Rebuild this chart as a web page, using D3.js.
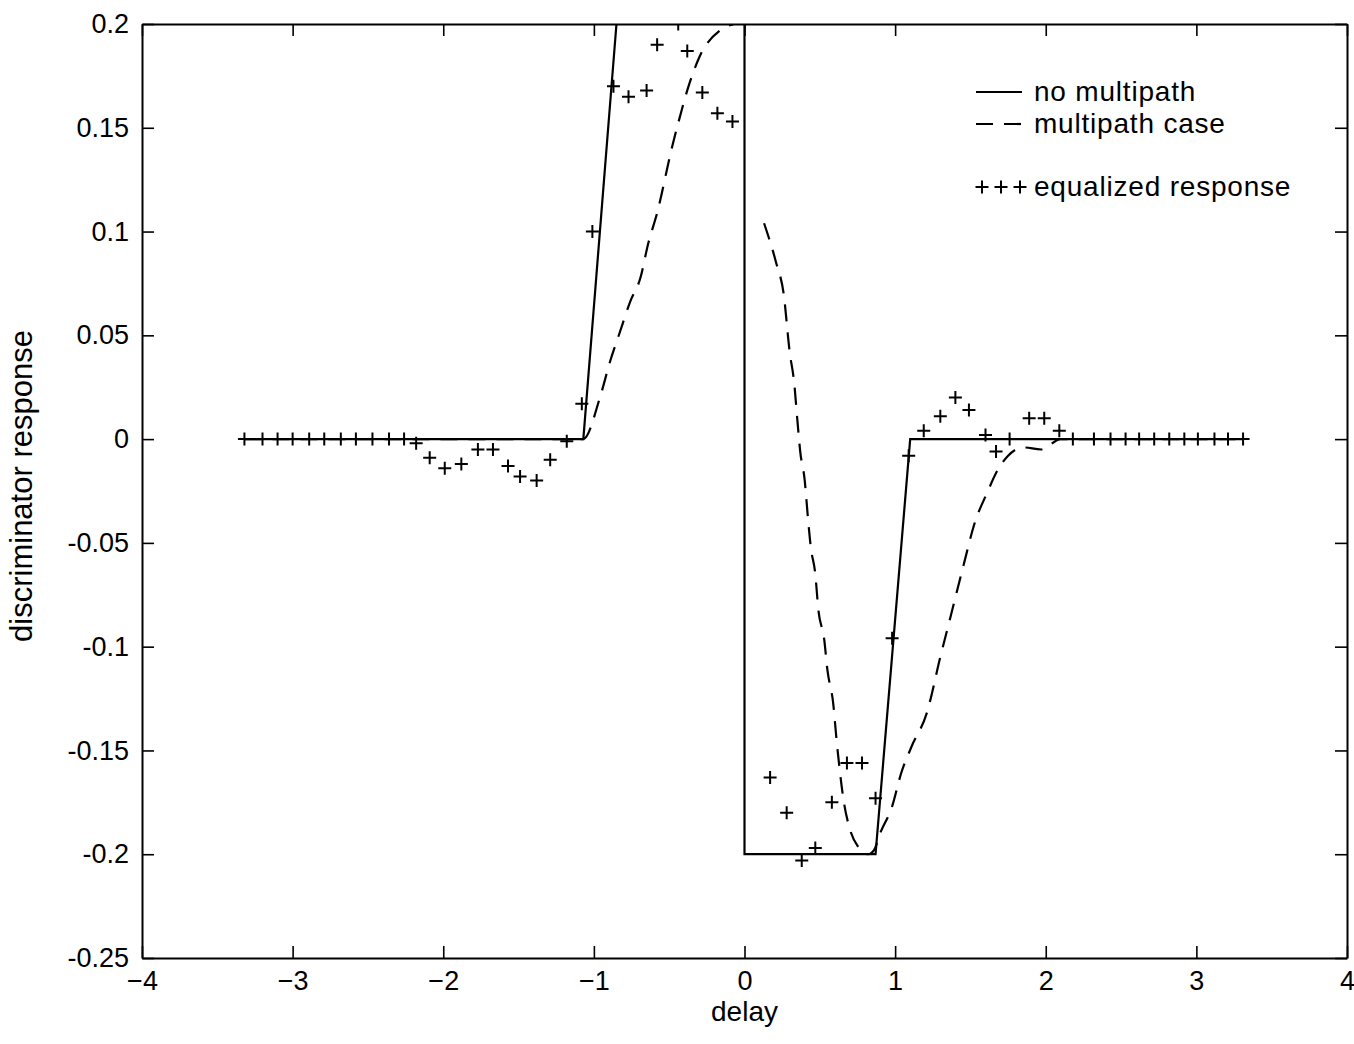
<!DOCTYPE html>
<html>
<head>
<meta charset="utf-8">
<script src="https://cdn.jsdelivr.net/npm/d3@7"></script>
<style>
  html, body { margin: 0; background: #fff; }
  svg { display: block; }
  text { font-family: "Liberation Sans", Arial, Helvetica, sans-serif; fill: #000; }
</style>
</head>
<body>
<svg id="chart" width="1354" height="1044"></svg>
<script>
// ---- axis ticks ----
const xTicks = [-4, -3, -2, -1, 0, 1, 2, 3, 4];
const xTickLabels = ["\u22124", "\u22123", "\u22122", "\u22121", "0", "1", "2", "3", "4"];
const yTicks = [-0.25, -0.2, -0.15, -0.1, -0.05, 0, 0.05, 0.1, 0.15, 0.2];
const yTickLabels = ["-0.25", "-0.2", "-0.15", "-0.1", "-0.05", "0", "0.05", "0.1", "0.15", "0.2"];

const seriesNames = ["no multipath", "multipath case", "equalized response"];

// ---- no multipath: ideal early-late discriminator ----
const idealDelay = [-3.32, -1.07, -0.85, 0, 0, 0.87, 1.1, 3.31];
const idealResp  = [0, 0, 0.2, 0.2, -0.2, -0.2, 0, 0];

// ---- multipath case (null = break at zero delay, curve leaves the axes) ----
const mpDelay = [-3.32, -1.07, -0.96, -0.89, -0.83, -0.76, -0.69, -0.64, -0.58, -0.48, -0.43, -0.38, -0.30, -0.16, -0.07,
                 0.05,
                 0.13, 0.21, 0.26, 0.30, 0.33, 0.35, 0.37, 0.40, 0.42, 0.44, 0.47, 0.49, 0.53, 0.55, 0.59, 0.61, 0.63,
                 0.66, 0.70, 0.76, 0.82, 0.86, 0.90, 0.98, 1.04, 1.11, 1.21, 1.30, 1.37, 1.45, 1.53, 1.61, 1.68, 1.75,
                 1.85, 1.97, 2.10, 3.31];
const mpResp  = [0, 0, 0.020, 0.038, 0.051, 0.066, 0.078, 0.094, 0.109, 0.141, 0.155, 0.168, 0.184, 0.197, 0.200,
                 null,
                 0.104, 0.085, 0.070, 0.042, 0.027, 0.010, -0.006, -0.020, -0.037, -0.052, -0.065, -0.082, -0.097, -0.111, -0.128, -0.144, -0.158,
                 -0.175, -0.188, -0.197, -0.200, -0.198, -0.190, -0.177, -0.161, -0.148, -0.132, -0.105, -0.085, -0.062, -0.040, -0.026, -0.015, -0.008,
                 -0.004, -0.005, 0, 0];

// ---- equalized response samples (plotted as + markers) ----
const eqDelay = [-3.32, -3.20, -3.10, -3.00, -2.89, -2.79, -2.68, -2.58, -2.47, -2.36, -2.26,
                 -2.18, -2.09, -1.99, -1.88, -1.77, -1.67, -1.57, -1.49, -1.38, -1.29, -1.18,
                 -1.08, -1.01, -0.87, -0.77, -0.65, -0.58, -0.44, -0.38, -0.28, -0.18, -0.08,
                 0.17, 0.28, 0.38, 0.47, 0.58, 0.68, 0.78, 0.87, 0.98, 1.09,
                 1.19, 1.30, 1.40, 1.49, 1.60, 1.67, 1.76, 1.89, 1.99, 2.09, 2.18, 2.32,
                 2.43, 2.53, 2.62, 2.72, 2.82, 2.92, 3.01, 3.12, 3.21, 3.31];
const eqResp  = [0, 0, 0, 0, 0, 0, 0, 0, 0, 0, 0,
                 -0.002, -0.009, -0.014, -0.012, -0.005, -0.005, -0.013, -0.018, -0.020, -0.010, -0.001,
                 0.017, 0.100, 0.170, 0.165, 0.168, 0.190, 0.200, 0.187, 0.167, 0.157, 0.153,
                 -0.163, -0.180, -0.203, -0.197, -0.175, -0.156, -0.156, -0.173, -0.096, -0.008,
                 0.004, 0.011, 0.020, 0.014, 0.002, -0.006, 0.000, 0.010, 0.010, 0.004, 0.000, 0.000,
                 0, 0, 0, 0, 0, 0, 0, 0, 0, 0];

// ---- layout ----
const svg = d3.select("#chart");
const plot = { left: 142, right: 1347, top: 24, bottom: 958 };

const x = d3.scaleLinear().domain([-4, 4]).range([plot.left, plot.right]);
const y = d3.scaleLinear().domain([-0.25, 0.2]).range([plot.bottom, plot.top]);

svg.append("defs").append("clipPath").attr("id", "plot-clip")
  .append("rect")
  .attr("x", plot.left).attr("y", plot.top)
  .attr("width", plot.right - plot.left).attr("height", plot.bottom - plot.top);

// ---- axes (boxed, inward ticks) ----
const tickLen = 12;
const axisStyle = g => {
  g.selectAll(".domain").attr("stroke", "#000").attr("stroke-width", 2);
  g.selectAll(".tick line").attr("stroke", "#000").attr("stroke-width", 1.6);
  g.selectAll(".tick text").style("font-size", "27px").attr("fill", "#000");
};

svg.append("g")
  .attr("transform", `translate(0,${plot.bottom})`)
  .call(d3.axisBottom(x).tickValues(xTicks).tickFormat((d, i) => xTickLabels[i])
    .tickSizeInner(-tickLen).tickSizeOuter(0).tickPadding(13))
  .call(axisStyle);

svg.append("g")
  .attr("transform", `translate(0,${plot.top})`)
  .call(d3.axisTop(x).tickValues(xTicks).tickFormat(() => "")
    .tickSizeInner(-tickLen).tickSizeOuter(0))
  .call(axisStyle);

svg.append("g")
  .attr("transform", `translate(${plot.left},0)`)
  .call(d3.axisLeft(y).tickValues(yTicks).tickFormat((d, i) => yTickLabels[i])
    .tickSizeInner(-tickLen).tickSizeOuter(0).tickPadding(13))
  .call(axisStyle);

svg.append("g")
  .attr("transform", `translate(${plot.right},0)`)
  .call(d3.axisRight(y).tickValues(yTicks).tickFormat(() => "")
    .tickSizeInner(-tickLen).tickSizeOuter(0))
  .call(axisStyle);

// axis titles
svg.append("text")
  .attr("x", (plot.left + plot.right) / 2).attr("y", 1021)
  .attr("text-anchor", "middle").style("font-size", "28px")
  .text("delay");

svg.append("text")
  .attr("transform", `translate(32,486) rotate(-90)`)
  .attr("text-anchor", "middle").style("font-size", "31px")
  .text("discriminator response");

// ---- curves ----
const layer = svg.append("g").attr("clip-path", "url(#plot-clip)");

const pts = (xs, ys) => xs.map((d, i) => [d, ys[i]]);
const line = d3.line()
  .defined(d => d[1] !== null)
  .x(d => x(d[0])).y(d => y(d[1]));
const smoothLine = d3.line()
  .defined(d => d[1] !== null)
  .curve(d3.curveMonotoneX)
  .x(d => x(d[0])).y(d => y(d[1]));

const dashes = "17,11";

layer.append("path")
  .datum(pts(idealDelay, idealResp))
  .attr("d", line)
  .attr("fill", "none").attr("stroke", "#000").attr("stroke-width", 2.2);

layer.append("path")
  .datum(pts(mpDelay, mpResp))
  .attr("d", smoothLine)
  .attr("fill", "none").attr("stroke", "#000").attr("stroke-width", 2.2)
  .attr("stroke-dasharray", dashes);

const plusPath = s => `M${-s},0H${s}M0,${-s}V${s}`;
layer.append("g").selectAll("path")
  .data(pts(eqDelay, eqResp))
  .join("path")
  .attr("transform", d => `translate(${x(d[0])},${y(d[1])})`)
  .attr("d", plusPath(6.5))
  .attr("fill", "none").attr("stroke", "#000").attr("stroke-width", 2);

// ---- legend ----
const legend = svg.append("g");
const legendRows = [
  { y: 92,  kind: "solid" },
  { y: 124, kind: "dashed" },
  { y: 187, kind: "plus" }
];
const sampleX0 = 976, sampleX1 = 1022, textX = 1034;

legendRows.forEach((row, i) => {
  if (row.kind === "solid") {
    legend.append("line").attr("x1", sampleX0).attr("x2", sampleX1)
      .attr("y1", row.y).attr("y2", row.y)
      .attr("stroke", "#000").attr("stroke-width", 2.2);
  } else if (row.kind === "dashed") {
    legend.append("line").attr("x1", sampleX0).attr("x2", sampleX1)
      .attr("y1", row.y).attr("y2", row.y)
      .attr("stroke", "#000").attr("stroke-width", 2.2)
      .attr("stroke-dasharray", dashes);
  } else {
    [sampleX0 + 6, (sampleX0 + sampleX1) / 2 + 2, sampleX1 - 2].forEach(px => {
      legend.append("path")
        .attr("transform", `translate(${px},${row.y})`)
        .attr("d", plusPath(6.5))
        .attr("fill", "none").attr("stroke", "#000").attr("stroke-width", 2);
    });
  }
  legend.append("text")
    .attr("x", textX).attr("y", row.y + 9)
    .style("font-size", "28px")
    .style("letter-spacing", "0.8px")
    .text(seriesNames[i]);
});
</script>
</body>
</html>
